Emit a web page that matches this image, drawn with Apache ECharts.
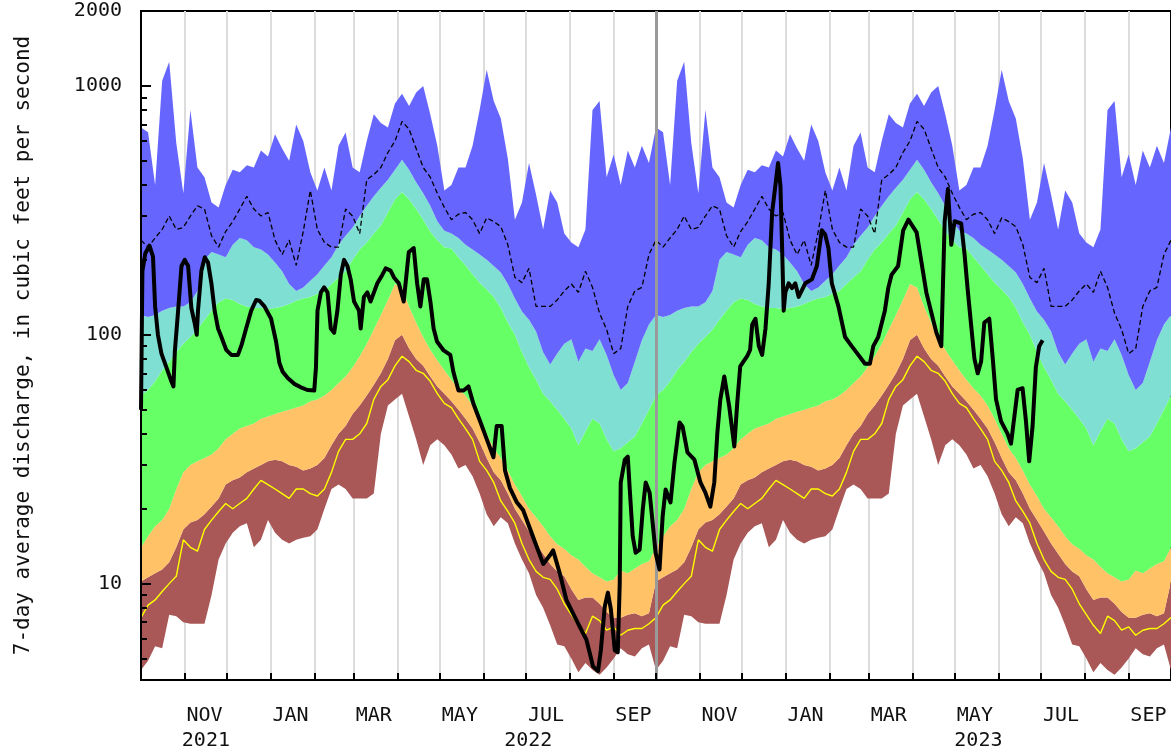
<!DOCTYPE html>
<html><head><meta charset="utf-8">
<script src="https://cdn.jsdelivr.net/npm/echarts@6/dist/echarts.min.js"></script>
<style>html,body{margin:0;padding:0;background:#fff}#c{width:1171px;height:751px}</style>
</head><body><div id="c"></div>
<script>
// ---- daily-statistics (per day of water year, day 0 = Oct 1) ----
const bandDay = [0,5,10,15,20,25,30,35,40,45,50,55,60,65,70,75,80,85,90,95,100,105,110,115,120,125,130,135,140,145,150,155,160,165,170,175,180,185,190,195,200,205,210,215,220,225,230,235,240,245,250,255,260,265,270,275,280,285,290,295,300,305,310,315,320,325,330,335,340,345,350,355,360];
const maxCfs = [680,652,400,1050,1250,590,370,800,470,430,340,325,400,460,450,480,470,550,520,640,560,500,700,600,450,380,470,380,575,650,470,450,600,770,710,680,850,930,830,940,1000,770,575,380,400,470,470,575,800,1160,870,740,510,290,340,490,365,265,380,340,255,235,225,265,800,870,430,530,400,550,470,575,490];
const p90Cfs = [120,118,120,125,128,130,130,135,150,200,215,210,205,230,245,240,225,220,210,195,180,160,150,155,165,175,190,205,230,250,270,300,330,360,390,420,460,505,460,410,370,330,286,262,255,245,230,220,210,200,189,178,160,140,124,115,103,85,76,84,92,96,78,88,86,96,83,69,60,64,78,95,110];
const p75Cfs = [57,60,65,72,78,85,92,98,105,115,125,135,140,138,133,130,128,128,127,128,130,133,137,140,142,146,150,160,170,180,200,220,235,255,275,310,350,375,350,320,290,260,240,225,222,205,190,175,162,152,142,128,112,100,85,74,66,58,54,50,46,42,36,41,46,44,38,34,35,37,39,44,50];
const p25Cfs = [14,15.5,17,18,20,24,28,30,31,32,33,35,38,40,42,43,44,46,47,48,49,50,51,52,54,55,57,60,64,68,74,82,92,105,120,138,160,155,130,112,98,87,79,72,66,61,57,52,46,40,35,32,28.5,25,22.5,20,18.5,17,15.5,14.4,13.8,13,12.5,11.7,11,10.6,10.2,10.4,11.3,11,11.5,12,12.3];
const p10Cfs = [10.2,10.6,11,11.4,12.2,14,16.5,17.6,18,19,20.4,22,25,26,26.7,28,29,30,31,31.5,31,30,29.5,28.5,29,30,32,36,40,43,48,52,57,63,70,80,95,100,88,80,75,68,62,58,54,50,46,42,37,32,28,26,23,20,18,16.2,14.5,13.2,12,11.2,10.7,9.5,8.6,8.8,8.8,8.3,7.7,7.3,7.3,7.5,7.6,7.4,7.6];
const minCfs = [4.5,4.9,5.6,5.5,7.5,7.4,7.0,6.9,6.9,6.9,9.0,12.5,14.5,16,17,17.5,14,15,18,16,15,14.5,15,15.3,15.5,16.5,20,24,25,24,22,22,22,23,40,52,55,58,47,38,30,36,38,36,33,29,30,27,23,19,17,18.5,17.5,14.5,12.5,11,9,8,6.8,5.7,5.6,5.0,4.4,4.8,4.5,4.3,4.6,5.0,5.5,5.2,5.1,5.5,5.7];
const meanCfs = [240,225,245,265,300,265,270,300,330,320,250,225,260,285,320,360,320,300,310,240,210,240,190,260,380,265,235,225,225,320,300,255,420,440,470,540,600,720,670,560,470,430,370,325,290,305,310,290,255,295,285,272,230,170,162,185,130,130,130,138,150,160,148,180,155,122,105,84,88,130,150,155,210];
const lowCfs = [7.3,8.2,8.6,9.3,10,10.7,15,14,13.5,16.5,18,19.5,21,20,21,22,24,26,25,24,23,22,24,24,23,22.5,24,28,34,38,38,40,44,55,62,66,75,82,78,72,70,65,58,53,51,46,42,38,31,28.5,25.5,21.5,19.5,17.5,14.5,12.5,11.2,10.6,10.4,9.5,8.3,7.5,6.8,6.3,7.4,7.1,6.5,6.7,6.2,6.5,6.6,6.6,6.9];

// ---- observed 7-day flow (day since 2021-10-01, cfs) ----
const flowDay = [0,1,3,6,8.5,10,12,14.5,18,21.5,23,24,26.3,28.7,31,33.4,35.7,38.1,39.5,40.4,42.8,45.2,47.5,49.9,52.2,54.6,57,60.4,64,68.7,71,74.5,78.1,81.6,83.9,87.5,92.2,95.7,98.1,100.4,104,108.6,113.3,118,122.8,124,125.1,127.5,129.8,132.2,134.5,136.9,139.2,141.6,143.9,146.3,148.6,151,154.5,155.7,158,160.4,162.7,165.1,167.5,171,173.4,176.9,179.3,182.7,186.2,189.8,193.3,195.7,198,200.4,202.7,205.1,207.4,209.8,214.5,219.2,221.5,225,228.6,232.1,235.6,240.4,245.1,249.8,252.1,255.6,258,261.5,266.2,270.9,275.6,280.4,285.1,289.8,292.1,296.8,301.5,306.2,311,315.7,320.4,323.9,325.9,328.7,330.9,333,335.8,337.9,339.3,340,342.9,345,346.4,348.5,350.6,353.4,355.6,357.7,360.5,362.6,364.7,367.5,369.7,371.8,375.3,378.1,381.7,383.8,387.3,392.2,396.5,400,403.5,406.3,408.5,410.6,413.4,416.9,420.5,422.6,424.7,429.6,431.7,433.2,435.5,437.9,440.2,442.6,444.9,447.3,449.6,451.5,453.2,454.3,455.5,456.7,459,461.4,463.7,466.1,470.8,475.5,479,482.5,484.9,487.2,489.6,494.3,499,503.7,508.4,513.1,516.6,519,522.5,527.2,529.6,531.9,536.6,540.2,543.9,549.7,556.6,563.7,567.2,569.6,571.9,574.3,576.6,581.3,583.7,586,588.3,590.7,593,595.4,597.7,601.2,603.7,606,609.5,614.2,616.6,619,621.3,624.8,627.2,629.5,631.9,634.2,636.6,639];
const flowCfs = [50,180,212,228,206,130,100,84,74,65,62,86,125,189,200,189,128,111,100,125,181,205,195,161,125,106,98,87,83,83,90,106,125,138,137,130,116,94,77,71,67,63.5,61.5,60,59.7,74,125,148,155,148,106,102,125,174,200,189,167,136,125,106,142,148,136,148,161,174,185,181,170,161,136,215,223,161,130,167,167,136,106,94,86.5,83,70.5,59.7,59.7,62,52.8,44.8,38,32.2,43,43,28.5,24.2,21.3,19.7,16.7,14.1,12,13,13.6,11,8.6,7.6,6.7,5.95,4.65,4.45,5.4,8.1,9.2,7.9,5.4,5.3,10,25.5,31.5,32.4,23.9,15.5,13.3,13.7,19.8,25.5,23.2,17.6,13.3,11.4,18.6,23.9,21.2,30.7,44.4,42.8,33.7,31.5,25.5,23.2,20.4,25.5,40.5,55,68,51.5,35.6,53.5,74.6,82,87,110,116,90,83,106,161,310,397,490,397,233,125,148,161,154,161,142,161,167,189,263,253,223,161,130,98,90,83,76.5,76.5,90,98,125,154,174,189,263,290,258,148,102,90,286,385,230,286,280,210,150,110,80,70,78,112,116,80,55,45,40,36.5,47,60,61,45,31,43,74,90,95];

const monthNames = ['JAN','FEB','MAR','APR','MAY','JUN','JUL','AUG','SEP','OCT','NOV','DEC'];
const monthLabelAt = ['2021-11','2022-01','2022-03','2022-05','2022-07','2022-09','2022-11','2023-01','2023-03','2023-05','2023-07','2023-09'];
const yearLabels = [2021, 2022, 2023];
const yLabelValues = [10, 100, 1000, 2000];
const yMajorTicks = [10, 100, 1000];
const yMinorTicks = [5,6,7,8,9,20,30,40,50,60,70,80,90,200,300,400,500,600,700,800,900];

// ---- build (x = days since 2021-10-01) ----
const DAY = 86400000;
const origin = new Date(2021, 9, 1);
const dayOf = (y, m, d) => Math.round((new Date(y, m, d) - origin) / DAY);
const dateOf = x => new Date(origin.getTime() + x * DAY + 12 * 3600000);
const axisStart = 0;
const axisEnd = dayOf(2023, 9, 1);
const waterYearStarts = [dayOf(2021, 9, 1), dayOf(2022, 9, 1)];

function periodic(vals) {
  const out = [];
  waterYearStarts.forEach(ys => bandDay.forEach((d, i) => out.push([ys + d, vals[i]])));
  out.push([axisEnd, vals[0]]);
  return out;
}

const monthStarts = [];
for (let y = 2021, m = 10; y < 2023 || (y === 2023 && m <= 8); ) {
  monthStarts.push(dayOf(y, m, 1));
  m++; if (m > 11) { m = 0; y++; }
}
const monthLabelVals = monthLabelAt.map(s => { const [y, m] = s.split('-').map(Number); return dayOf(y, m - 1, 15); });
const yearLabelVals = yearLabels.map(y => {
  const s = Math.max(dayOf(y, 0, 1), axisStart);
  const e = Math.min(dayOf(y + 1, 0, 1), axisEnd);
  return (s + e) / 2;
});
const flowData = flowDay.map((d, i) => [d, flowCfs[i]]);

const FONT = 'DejaVu Sans Mono';
const txt = { fontFamily: FONT, fontSize: 20, color: '#111' };

// band between two statistic curves, drawn as a polygon through the axes' scales
function band(name, lower, upper, color) {
  const lo = periodic(lower), up = periodic(upper);
  return {
    name, type: 'custom', z: 2, silent: true, clip: true,
    data: [[axisStart, 10]],
    renderItem: (params, api) => {
      const pts = up.map(p => api.coord(p)).concat(lo.slice().reverse().map(p => api.coord(p)));
      return { type: 'polygon', shape: { points: pts }, style: { fill: color, stroke: null } };
    }
  };
}

const chart = echarts.init(document.getElementById('c'), null, { renderer: 'canvas' });
chart.setOption({
  animation: false,
  backgroundColor: '#fff',
  grid: { left: 141, right: -5, top: 11, bottom: 71, show: true, borderColor: '#000', borderWidth: 2, backgroundColor: 'transparent' },
  xAxis: [{
    // month gridlines (behind the bands) and month labels
    type: 'value', min: axisStart, max: axisEnd, position: 'bottom', z: 0,
    axisLine: { show: false }, axisTick: { show: false, customValues: monthStarts },
    axisLabel: { customValues: monthLabelVals, formatter: v => monthNames[dateOf(v).getMonth()], margin: 26, ...txt, hideOverlap: false },
    splitLine: { show: true, lineStyle: { color: '#dcdcdc', width: 2 } }
  }, {
    type: 'value', min: axisStart, max: axisEnd, position: 'bottom', offset: 25,
    axisLine: { show: false }, axisTick: { show: false }, splitLine: { show: false },
    axisLabel: { customValues: yearLabelVals, formatter: v => String(dateOf(v).getFullYear()), margin: 26, ...txt, hideOverlap: false }
  }, {
    // axis line and month ticks drawn over the bands
    type: 'value', min: axisStart, max: axisEnd, position: 'bottom', z: 10,
    axisLine: { show: true, onZero: false, lineStyle: { color: '#000', width: 2 } },
    axisTick: { show: true, inside: true, length: 7, customValues: monthStarts, lineStyle: { color: '#000', width: 2 } },
    axisLabel: { show: false }, splitLine: { show: false }
  }],
  yAxis: [{
    type: 'log', logBase: 10, min: 4.1, max: 2000, z: 10,
    name: '7-day average discharge, in cubic feet per second', nameLocation: 'middle', nameGap: 107, nameRotate: 90,
    nameTextStyle: { fontFamily: FONT, fontSize: 21, color: '#111' },
    axisLine: { show: true, lineStyle: { color: '#000', width: 2 } },
    axisTick: { show: true, inside: true, length: 10, customValues: yMajorTicks, lineStyle: { color: '#000', width: 2 } },
    axisLabel: { customValues: yLabelValues, margin: 19, ...txt, formatter: v => String(Math.round(v)) },
    splitLine: { show: false }
  }, {
    type: 'log', logBase: 10, min: 4.1, max: 2000, position: 'left', z: 10,
    axisLine: { show: false }, axisLabel: { show: false }, splitLine: { show: false },
    axisTick: { show: true, inside: true, length: 6, customValues: yMinorTicks, lineStyle: { color: '#000', width: 2 } }
  }],
  series: [
    { name: 'wy', type: 'line', data: [[axisStart, 10]], symbol: 'none', lineStyle: { opacity: 0 }, z: 1, silent: true,
      markLine: { silent: true, symbol: 'none', label: { show: false }, lineStyle: { color: '#9a9a9a', width: 3, type: 'solid' },
        data: [{ xAxis: waterYearStarts[1] }] } },
    band('p0-10', minCfs, p10Cfs, '#aa5757'),
    band('p10-25', p10Cfs, p25Cfs, '#ffc266'),
    band('p25-75', p25Cfs, p75Cfs, '#66ff66'),
    band('p75-90', p75Cfs, p90Cfs, '#7fdfd2'),
    band('p90-max', p90Cfs, maxCfs, '#6666ff'),
    { name: 'low', type: 'line', data: periodic(lowCfs), symbol: 'none', lineStyle: { color: '#ffff00', width: 1.4 }, z: 4, silent: true },
    { name: 'mean', type: 'line', data: periodic(meanCfs), symbol: 'none', lineStyle: { color: '#000', width: 1.3, type: [5, 3] }, z: 4, silent: true },
    { name: 'flow', type: 'line', data: flowData, symbol: 'none', lineStyle: { color: '#000', width: 4, join: 'round' }, z: 5, silent: true }
  ]
});
</script></body></html>
